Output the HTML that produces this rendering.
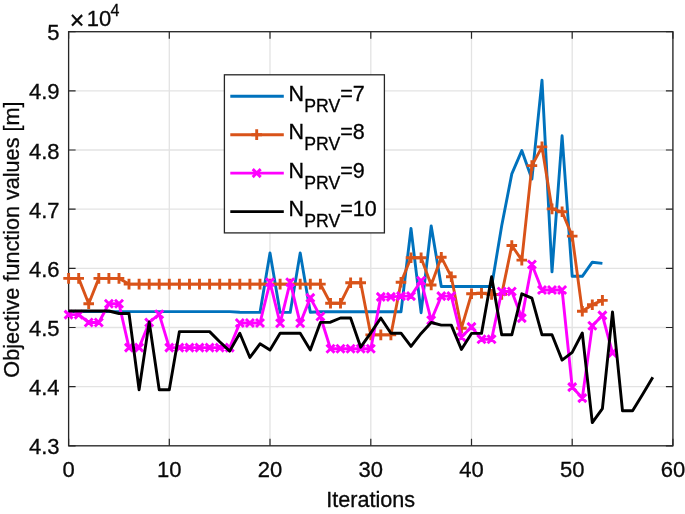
<!DOCTYPE html>
<html><head><meta charset="utf-8"><title>Objective function values</title>
<style>
html,body{margin:0;padding:0;background:#fff;}
body{width:685px;height:514px;overflow:hidden;}
svg{display:block;}
text{font-family:"Liberation Sans",Arial,Helvetica,sans-serif;fill:#000;stroke:#000;stroke-width:0.3px;}
.tick{font-size:22px;fill:#0a0a0a;}
.lab{font-size:21.6px;fill:#0a0a0a;}
.leg{font-size:21.5px;fill:#000;}
.sub{font-size:17.7px;}
</style></head><body>
<svg width="685" height="514" viewBox="0 0 685 514">
<rect width="685" height="514" fill="#fff"/>
<path d="M68.6 31.7V445.8M169.3 31.7V445.8M270.0 31.7V445.8M370.8 31.7V445.8M471.5 31.7V445.8M572.2 31.7V445.8M672.9 31.7V445.8M68.6 445.8H672.9M68.6 386.6H672.9M68.6 327.5H672.9M68.6 268.3H672.9M68.6 209.2H672.9M68.6 150.0H672.9M68.6 90.9H672.9M68.6 31.7H672.9" stroke="#e3e3e3" stroke-width="1.3" fill="none"/>
<path d="M68.6 445.8v-7M68.6 31.7v7M169.3 445.8v-7M169.3 31.7v7M270.0 445.8v-7M270.0 31.7v7M370.8 445.8v-7M370.8 31.7v7M471.5 445.8v-7M471.5 31.7v7M572.2 445.8v-7M572.2 31.7v7M672.9 445.8v-7M672.9 31.7v7M68.6 445.8h7M672.9 445.8h-7M68.6 386.6h7M672.9 386.6h-7M68.6 327.5h7M672.9 327.5h-7M68.6 268.3h7M672.9 268.3h-7M68.6 209.2h7M672.9 209.2h-7M68.6 150.0h7M672.9 150.0h-7M68.6 90.9h7M672.9 90.9h-7M68.6 31.7h7M672.9 31.7h-7" stroke="#262626" stroke-width="1.2" fill="none"/>
<rect x="68.6" y="31.7" width="604.3" height="414.1" fill="none" stroke="#262626" stroke-width="1.3"/>
<polyline points="68.6,311.6 78.7,311.6 88.7,311.6 98.8,311.6 108.9,311.6 119.0,311.6 129.0,311.6 139.1,311.6 149.2,311.6 159.2,311.6 169.3,311.6 179.4,311.6 189.5,311.6 199.5,311.6 209.6,311.6 219.7,311.6 229.7,311.6 239.8,312.2 249.9,312.4 260.0,312.4 270.0,252.9 280.1,312.4 290.2,312.4 300.2,252.9 310.3,312.2 320.4,311.8 330.5,311.8 340.5,311.8 350.6,311.8 360.7,311.8 370.8,311.8 380.8,311.8 390.9,311.8 401.0,311.8 411.0,228.5 421.1,312.7 431.2,225.9 441.3,286.5 451.3,286.5 461.4,286.5 471.5,286.5 481.5,286.5 491.6,286.5 501.7,225.7 511.8,173.9 521.8,150.6 531.9,179.1 542.0,80.2 552.0,271.9 562.1,135.8 572.2,276.3 582.3,276.3 592.3,262.2 602.4,263.4" fill="none" stroke="#0072BD" stroke-width="2.9" stroke-linejoin="round"/>
<polyline points="68.6,278.4 78.7,278.4 88.7,303.8 98.8,278.4 108.9,278.4 119.0,278.4 129.0,284.1 139.1,284.1 149.2,284.1 159.2,284.1 169.3,284.1 179.4,284.1 189.5,284.1 199.5,284.1 209.6,284.1 219.7,284.1 229.7,284.1 239.8,284.1 249.9,284.1 260.0,284.1 270.0,284.1 280.1,284.1 290.2,284.1 300.2,284.1 310.3,284.1 320.4,284.1 330.5,303.2 340.5,303.2 350.6,282.8 360.7,282.8 370.8,334.9 380.8,334.9 390.9,334.9 401.0,282.2 411.0,257.7 421.1,257.7 431.2,285.0 441.3,257.2 451.3,276.8 461.4,328.3 471.5,293.8 481.5,293.2 491.6,294.4 501.7,294.4 511.8,245.5 521.8,260.1 531.9,165.6 542.0,146.9 552.0,208.9 562.1,211.8 572.2,236.1 582.3,311.3 592.3,304.7 602.4,300.4" fill="none" stroke="#D95319" stroke-width="2.9" stroke-linejoin="round"/>
<path d="M63.3 278.4h10.6M68.6 273.1v10.6M73.4 278.4h10.6M78.7 273.1v10.6M83.4 303.8h10.6M88.7 298.5v10.6M93.5 278.4h10.6M98.8 273.1v10.6M103.6 278.4h10.6M108.9 273.1v10.6M113.7 278.4h10.6M119.0 273.1v10.6M123.7 284.1h10.6M129.0 278.8v10.6M133.8 284.1h10.6M139.1 278.8v10.6M143.9 284.1h10.6M149.2 278.8v10.6M153.9 284.1h10.6M159.2 278.8v10.6M164.0 284.1h10.6M169.3 278.8v10.6M174.1 284.1h10.6M179.4 278.8v10.6M184.2 284.1h10.6M189.5 278.8v10.6M194.2 284.1h10.6M199.5 278.8v10.6M204.3 284.1h10.6M209.6 278.8v10.6M214.4 284.1h10.6M219.7 278.8v10.6M224.4 284.1h10.6M229.7 278.8v10.6M234.5 284.1h10.6M239.8 278.8v10.6M244.6 284.1h10.6M249.9 278.8v10.6M254.7 284.1h10.6M260.0 278.8v10.6M264.7 284.1h10.6M270.0 278.8v10.6M274.8 284.1h10.6M280.1 278.8v10.6M284.9 284.1h10.6M290.2 278.8v10.6M294.9 284.1h10.6M300.2 278.8v10.6M305.0 284.1h10.6M310.3 278.8v10.6M315.1 284.1h10.6M320.4 278.8v10.6M325.2 303.2h10.6M330.5 297.9v10.6M335.2 303.2h10.6M340.5 297.9v10.6M345.3 282.8h10.6M350.6 277.5v10.6M355.4 282.8h10.6M360.7 277.5v10.6M365.4 334.9h10.6M370.8 329.6v10.6M375.5 334.9h10.6M380.8 329.6v10.6M385.6 334.9h10.6M390.9 329.6v10.6M395.7 282.2h10.6M401.0 276.9v10.6M405.7 257.7h10.6M411.0 252.4v10.6M415.8 257.7h10.6M421.1 252.4v10.6M425.9 285.0h10.6M431.2 279.7v10.6M436.0 257.2h10.6M441.3 251.9v10.6M446.0 276.8h10.6M451.3 271.5v10.6M456.1 328.3h10.6M461.4 323.0v10.6M466.2 293.8h10.6M471.5 288.5v10.6M476.2 293.2h10.6M481.5 287.9v10.6M486.3 294.4h10.6M491.6 289.1v10.6M496.4 294.4h10.6M501.7 289.1v10.6M506.5 245.5h10.6M511.8 240.2v10.6M516.5 260.1h10.6M521.8 254.8v10.6M526.6 165.6h10.6M531.9 160.3v10.6M536.7 146.9h10.6M542.0 141.6v10.6M546.7 208.9h10.6M552.0 203.6v10.6M556.8 211.8h10.6M562.1 206.5v10.6M566.9 236.1h10.6M572.2 230.8v10.6M577.0 311.3h10.6M582.3 306.0v10.6M587.0 304.7h10.6M592.3 299.4v10.6M597.1 300.4h10.6M602.4 295.1v10.6" stroke="#D95319" stroke-width="2.9" fill="none"/>
<polyline points="68.6,314.6 78.7,314.6 88.7,322.5 98.8,322.5 108.9,303.8 119.0,303.8 129.0,347.6 139.1,347.6 149.2,322.5 159.2,314.2 169.3,347.6 179.4,347.6 189.5,347.6 199.5,347.6 209.6,347.6 219.7,347.6 229.7,347.6 239.8,323.0 249.9,323.0 260.0,323.0 270.0,282.2 280.1,323.3 290.2,282.2 300.2,323.3 310.3,297.9 320.4,316.5 330.5,348.8 340.5,348.8 350.6,348.8 360.7,348.8 370.8,348.8 380.8,296.9 390.9,296.9 401.0,296.1 411.0,296.1 421.1,280.8 431.2,320.2 441.3,296.1 451.3,296.1 461.4,337.1 471.5,326.9 481.5,339.2 491.6,339.2 501.7,291.5 511.8,291.5 521.8,318.1 531.9,264.5 542.0,290.0 552.0,290.0 562.1,290.0 572.2,387.1 582.3,398.1 592.3,325.7 602.4,315.4 612.5,352.9" fill="none" stroke="#FF00FF" stroke-width="2.9" stroke-linejoin="round"/>
<path d="M64.6 310.6l8.0 8.0M64.6 318.6l8.0 -8.0M74.7 310.6l8.0 8.0M74.7 318.6l8.0 -8.0M84.7 318.5l8.0 8.0M84.7 326.5l8.0 -8.0M94.8 318.5l8.0 8.0M94.8 326.5l8.0 -8.0M104.9 299.8l8.0 8.0M104.9 307.8l8.0 -8.0M115.0 299.8l8.0 8.0M115.0 307.8l8.0 -8.0M125.0 343.6l8.0 8.0M125.0 351.6l8.0 -8.0M135.1 343.6l8.0 8.0M135.1 351.6l8.0 -8.0M145.2 318.5l8.0 8.0M145.2 326.5l8.0 -8.0M155.2 310.2l8.0 8.0M155.2 318.2l8.0 -8.0M165.3 343.6l8.0 8.0M165.3 351.6l8.0 -8.0M175.4 343.6l8.0 8.0M175.4 351.6l8.0 -8.0M185.5 343.6l8.0 8.0M185.5 351.6l8.0 -8.0M195.5 343.6l8.0 8.0M195.5 351.6l8.0 -8.0M205.6 343.6l8.0 8.0M205.6 351.6l8.0 -8.0M215.7 343.6l8.0 8.0M215.7 351.6l8.0 -8.0M225.7 343.6l8.0 8.0M225.7 351.6l8.0 -8.0M235.8 319.0l8.0 8.0M235.8 327.0l8.0 -8.0M245.9 319.0l8.0 8.0M245.9 327.0l8.0 -8.0M256.0 319.0l8.0 8.0M256.0 327.0l8.0 -8.0M266.0 278.2l8.0 8.0M266.0 286.2l8.0 -8.0M276.1 319.3l8.0 8.0M276.1 327.3l8.0 -8.0M286.2 278.2l8.0 8.0M286.2 286.2l8.0 -8.0M296.2 319.3l8.0 8.0M296.2 327.3l8.0 -8.0M306.3 293.9l8.0 8.0M306.3 301.9l8.0 -8.0M316.4 312.5l8.0 8.0M316.4 320.5l8.0 -8.0M326.5 344.8l8.0 8.0M326.5 352.8l8.0 -8.0M336.5 344.8l8.0 8.0M336.5 352.8l8.0 -8.0M346.6 344.8l8.0 8.0M346.6 352.8l8.0 -8.0M356.7 344.8l8.0 8.0M356.7 352.8l8.0 -8.0M366.8 344.8l8.0 8.0M366.8 352.8l8.0 -8.0M376.8 292.9l8.0 8.0M376.8 300.9l8.0 -8.0M386.9 292.9l8.0 8.0M386.9 300.9l8.0 -8.0M397.0 292.1l8.0 8.0M397.0 300.1l8.0 -8.0M407.0 292.1l8.0 8.0M407.0 300.1l8.0 -8.0M417.1 276.8l8.0 8.0M417.1 284.8l8.0 -8.0M427.2 316.2l8.0 8.0M427.2 324.2l8.0 -8.0M437.3 292.1l8.0 8.0M437.3 300.1l8.0 -8.0M447.3 292.1l8.0 8.0M447.3 300.1l8.0 -8.0M457.4 333.1l8.0 8.0M457.4 341.1l8.0 -8.0M467.5 322.9l8.0 8.0M467.5 330.9l8.0 -8.0M477.5 335.2l8.0 8.0M477.5 343.2l8.0 -8.0M487.6 335.2l8.0 8.0M487.6 343.2l8.0 -8.0M497.7 287.5l8.0 8.0M497.7 295.5l8.0 -8.0M507.8 287.5l8.0 8.0M507.8 295.5l8.0 -8.0M517.8 314.1l8.0 8.0M517.8 322.1l8.0 -8.0M527.9 260.5l8.0 8.0M527.9 268.5l8.0 -8.0M538.0 286.0l8.0 8.0M538.0 294.0l8.0 -8.0M548.0 286.0l8.0 8.0M548.0 294.0l8.0 -8.0M558.1 286.0l8.0 8.0M558.1 294.0l8.0 -8.0M568.2 383.1l8.0 8.0M568.2 391.1l8.0 -8.0M578.3 394.1l8.0 8.0M578.3 402.1l8.0 -8.0M588.3 321.7l8.0 8.0M588.3 329.7l8.0 -8.0M598.4 311.4l8.0 8.0M598.4 319.4l8.0 -8.0M608.5 348.9l8.0 8.0M608.5 356.9l8.0 -8.0" stroke="#FF00FF" stroke-width="2.9" fill="none"/>
<polyline points="68.6,311.0 78.7,311.0 88.7,311.0 98.8,311.0 108.9,311.0 119.0,313.5 129.0,313.5 139.1,389.8 149.2,321.9 159.2,389.8 169.3,389.8 179.4,331.6 189.5,331.6 199.5,331.6 209.6,331.6 219.7,341.7 229.7,351.1 239.8,333.2 249.9,357.5 260.0,343.8 270.0,350.1 280.1,333.2 290.2,333.2 300.2,333.2 310.3,350.1 320.4,322.4 330.5,322.2 340.5,318.0 350.6,318.0 360.7,347.2 370.8,332.8 380.8,318.0 390.9,333.2 401.0,333.2 411.0,346.4 421.1,333.4 431.2,322.5 441.3,325.1 451.3,325.1 461.4,349.4 471.5,333.4 481.5,333.4 491.6,276.8 501.7,334.8 511.8,334.8 521.8,293.8 531.9,298.2 542.0,334.8 552.0,334.8 562.1,360.1 572.2,352.3 582.3,333.0 592.3,422.6 602.4,408.6 612.5,311.9 622.5,410.8 632.6,410.8 642.7,394.3 652.8,377.3" fill="none" stroke="#000" stroke-width="2.9" stroke-linejoin="round"/>
<text class="tick" x="68.6" y="476.6" text-anchor="middle">0</text>
<text class="tick" x="169.3" y="476.6" text-anchor="middle">10</text>
<text class="tick" x="270.0" y="476.6" text-anchor="middle">20</text>
<text class="tick" x="370.8" y="476.6" text-anchor="middle">30</text>
<text class="tick" x="471.5" y="476.6" text-anchor="middle">40</text>
<text class="tick" x="572.2" y="476.6" text-anchor="middle">50</text>
<text class="tick" x="672.9" y="476.6" text-anchor="middle">60</text>
<text class="tick" x="59.6" y="454.3" text-anchor="end">4.3</text>
<text class="tick" x="59.6" y="395.1" text-anchor="end">4.4</text>
<text class="tick" x="59.6" y="336.0" text-anchor="end">4.5</text>
<text class="tick" x="59.6" y="276.8" text-anchor="end">4.6</text>
<text class="tick" x="59.6" y="217.7" text-anchor="end">4.7</text>
<text class="tick" x="59.6" y="158.5" text-anchor="end">4.8</text>
<text class="tick" x="59.6" y="99.4" text-anchor="end">4.9</text>
<text class="tick" x="59.6" y="40.2" text-anchor="end">5</text>
<text class="lab" x="370.7" y="506.6" text-anchor="middle">Iterations</text>
<text class="lab" transform="translate(18.8,239.6) rotate(-90)" text-anchor="middle">Objective function values [m]</text>
<text class="tick" x="69.8" y="29.3" style="font-size:25px">×</text><text class="tick" x="86.8" y="26">10</text><text class="tick" x="110.4" y="15.5" style="font-size:16px">4</text>
<rect x="224.4" y="74.8" width="160" height="158.1" fill="#fff" stroke="#262626" stroke-width="1.3"/>
<path d="M230.3 96.2H283.8" stroke="#0072BD" stroke-width="2.9" fill="none"/>
<text class="leg" x="288.6" y="100.7">N<tspan class="sub" dx="0" dy="11">PRV</tspan><tspan dx="0" dy="-11">=7</tspan></text>
<path d="M230.3 134.7H283.8" stroke="#D95319" stroke-width="2.9" fill="none"/>
<path d="M251.4 134.7h10.6M256.7 129.3v10.6" stroke="#D95319" stroke-width="2.9" fill="none"/>
<text class="leg" x="288.6" y="139.2">N<tspan class="sub" dx="0" dy="11">PRV</tspan><tspan dx="0" dy="-11">=8</tspan></text>
<path d="M230.3 173.1H283.8" stroke="#FF00FF" stroke-width="2.9" fill="none"/>
<path d="M252.7 169.1l8.0 8.0M252.7 177.1l8.0 -8.0" stroke="#FF00FF" stroke-width="2.9" fill="none"/>
<text class="leg" x="288.6" y="177.6">N<tspan class="sub" dx="0" dy="11">PRV</tspan><tspan dx="0" dy="-11">=9</tspan></text>
<path d="M230.3 211.6H283.8" stroke="#000" stroke-width="2.9" fill="none"/>
<text class="leg" x="288.6" y="216.1">N<tspan class="sub" dx="0" dy="11">PRV</tspan><tspan dx="0" dy="-11">=10</tspan></text>
</svg></body></html>
